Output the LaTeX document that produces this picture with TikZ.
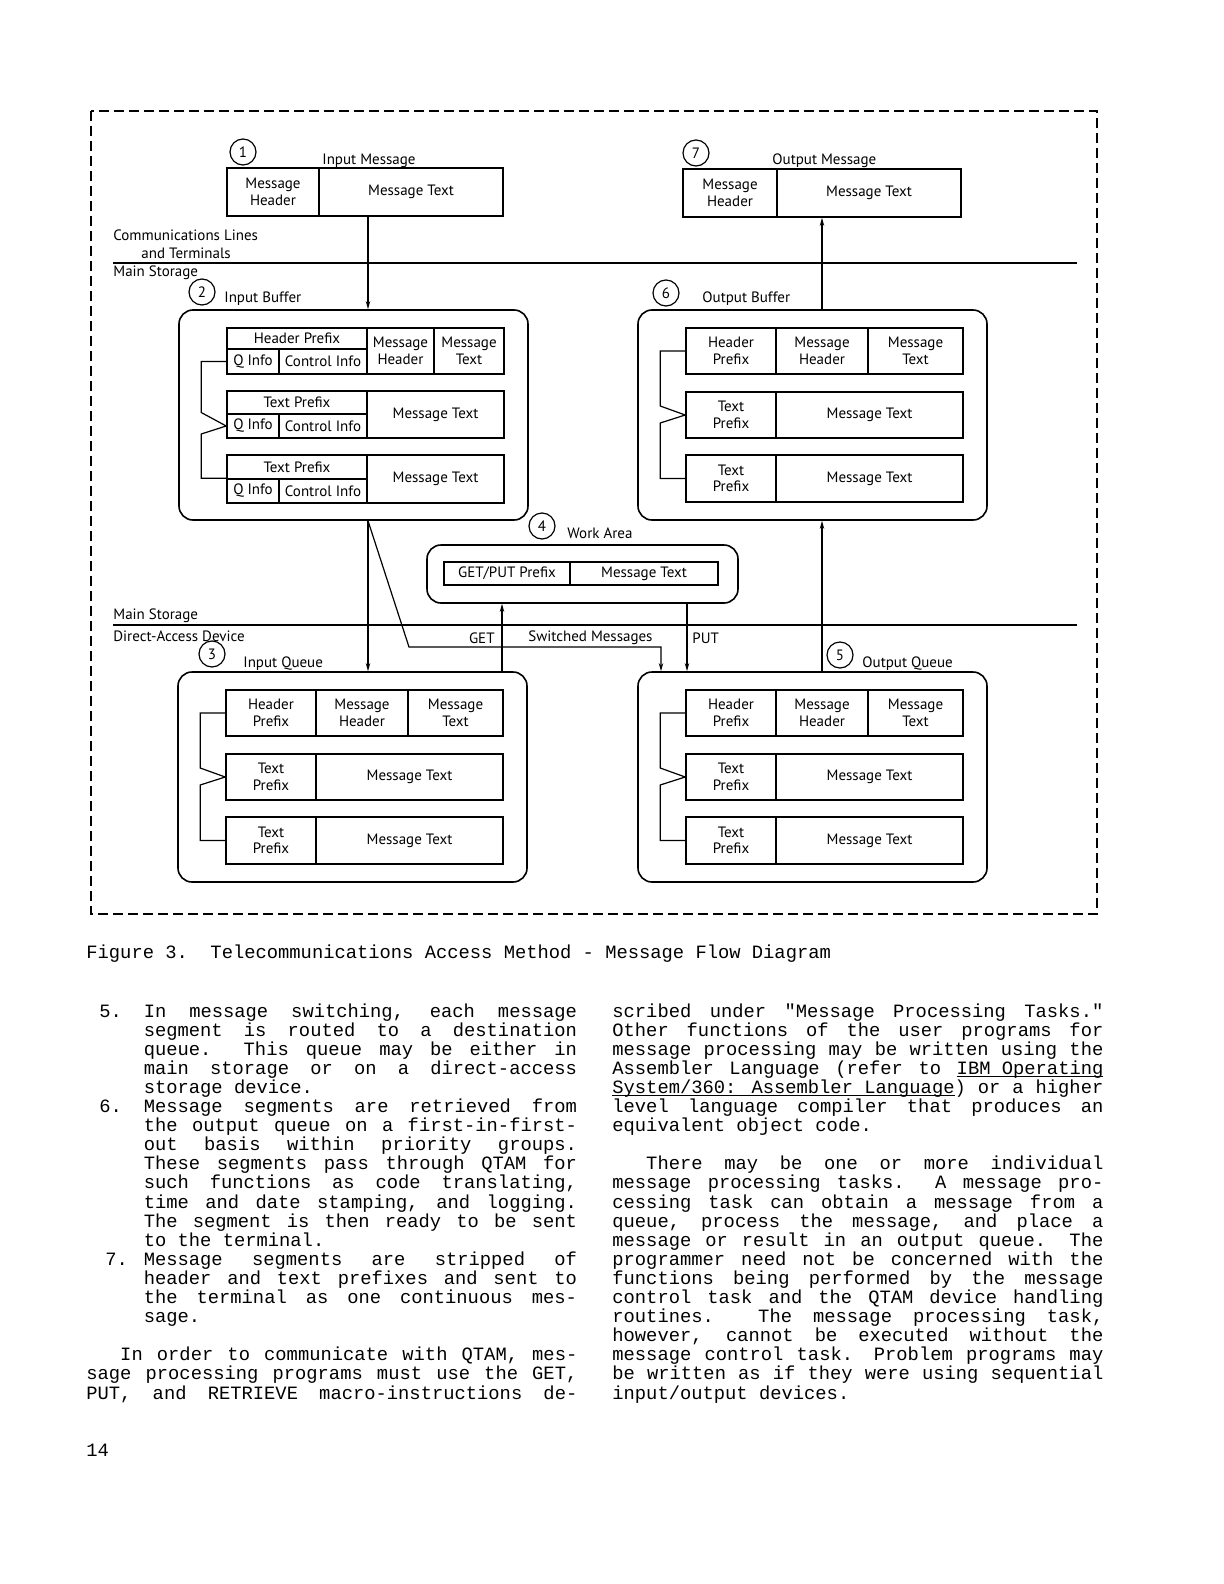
\documentclass[tikz,border=0pt]{standalone}
\usepackage{fontspec}
\usetikzlibrary{arrows.meta,positioning}
\newfontfamily\diagfont{PT Sans}
\newfontfamily\typefont{Liberation Mono}

% one cell of a message segment: name, x1, y1, x2, y2 (px), text
\newcommand{\cellbox}[6]{%
  \node[cell, minimum width={(#4-#2)*0.5pt}, minimum height={(#5-#3)*0.5pt}]
    (#1) at ({(#2+#4)/2},{(#3+#5)/2}) {#6};}
% justified and last lines of typed text
\newcommand{\jl}[1]{\hbox to\hsize{\spaceskip=\fontdimen2\font plus 1fil\relax #1}}
\newcommand{\lastl}[1]{\hbox{#1}}
\newcommand{\para}[2]{\vtop{\hsize=#1\relax\lineskiplimit=-20pt\relax #2}}
\newcommand{\ulin}[1]{\setbox0=\hbox{#1}\rlap{\vrule height-0.9pt depth1.5pt width\wd0}\box0}

% queue / buffer with a header segment and two text segments
\newcommand{\segrows}[1]{%
  \node[store, minimum width=174.5pt, minimum height=105pt] (#1) at (174.5,105) {};
  \cellbox{#1-hp}{48}{18}{138}{64}{Header\\Prefix}
  \cellbox{#1-mh}{138}{18}{230}{64}{Message\\Header}
  \cellbox{#1-mt}{230}{18}{325}{64}{Message\\Text}
  \cellbox{#1-tp1}{48}{82}{138}{128}{Text\\Prefix}
  \cellbox{#1-tx1}{138}{82}{325}{128}{Message Text}
  \cellbox{#1-tp2}{48}{145}{138}{192}{Text\\Prefix}
  \cellbox{#1-tx2}{138}{145}{325}{192}{Message Text}
  \draw[link] (#1-hp.west) -- ++(-25,0) -- ++(0,55) -- (#1-tp1.west)
    -- ++(-25,8) |- (#1-tp2.west);}

\tikzset{
  lbl/.style={font=\diagfont\fontsize{7.5}{8.3}\selectfont, inner sep=0pt, anchor=west},
  cell/.style={draw, line width=0.8pt, inner sep=0pt, align=center,
    font=\diagfont\fontsize{7.5}{8.3}\selectfont},
  store/.style={draw, line width=0.8pt, rounded corners=7pt, inner sep=0pt},
  numcirc/.style={draw, circle, line width=0.6pt, minimum size=13pt, inner sep=0pt,
    font=\diagfont\fontsize{7.5}{8}\selectfont},
  flow/.style={line width=0.6pt, -{Stealth[length=4pt,width=2.2pt]}},
  link/.style={line width=0.6pt},
  body/.style={font=\typefont\fontsize{9.4}{9.55}\selectfont, inner sep=0pt, anchor=base west},
}

\begin{document}
\begin{tikzpicture}[x=0.5pt, y=-0.5pt]
  \fill[white] (0,0) rectangle (1224,1584);
  \useasboundingbox (0,0) rectangle (1224,1584);

  % frame and storage boundaries
  \draw[line width=0.6pt, dash pattern=on 5pt off 2.5pt] (91,111) rectangle (1097,914);
  \draw[line width=0.6pt] (113,263) -- (1077,263);
  \draw[line width=0.6pt] (113,625) -- (1077,625);
  \node[lbl] (comm) at (113,235) {Communications Lines};
  \node[lbl] (term) at (141,253) {and Terminals};
  \node[lbl] (ms1) at (113,273) {Main Storage};
  \node[lbl] (ms2) at (113,616) {Main Storage};
  \node[lbl] (dad) at (113,636) {Direct-Access Device};

  % input and output message
  \node[numcirc] (c1) at (243,152) {1};
  \node[lbl] (l1) at (322,161) {Input Message};
  \cellbox{im-hd}{227}{168}{319}{216}{Message\\Header}
  \cellbox{im-tx}{319}{168}{503}{216}{Message Text}
  \node[numcirc] (c7) at (696,153) {7};
  \node[lbl] (l7) at (772,161) {Output Message};
  \cellbox{om-hd}{683}{169}{777}{217}{Message\\Header}
  \cellbox{om-tx}{777}{169}{961}{217}{Message Text}

  % input buffer
  \node[numcirc] (c2) at (202,292) {2};
  \node[lbl] (l2) at (224,299) {Input Buffer};
  \begin{scope}[shift={(179,310)}]
    \node[store, minimum width=174.5pt, minimum height=105pt] (ib) at (174.5,105) {};
    \cellbox{ib-hp}{48}{18}{188}{39}{Header Prefix}
    \cellbox{ib-qi1}{48}{39}{100}{64}{Q Info}
    \cellbox{ib-ci1}{100}{39}{188}{64}{Control Info}
    \cellbox{ib-mh}{188}{18}{255}{64}{Message\\Header}
    \cellbox{ib-mt}{255}{18}{325}{64}{Message\\Text}
    \cellbox{ib-tp1}{48}{81}{188}{104}{Text Prefix}
    \cellbox{ib-qi2}{48}{104}{100}{128}{Q Info}
    \cellbox{ib-ci2}{100}{104}{188}{128}{Control Info}
    \cellbox{ib-tx1}{188}{81}{325}{128}{Message Text}
    \cellbox{ib-tp2}{48}{145}{188}{169}{Text Prefix}
    \cellbox{ib-qi3}{48}{169}{100}{193}{Q Info}
    \cellbox{ib-ci3}{100}{169}{188}{193}{Control Info}
    \cellbox{ib-tx2}{188}{145}{325}{193}{Message Text}
    \draw[link] (ib-qi1.west) -- ++(-25,0) -- ++(0,51) -- (ib-qi2.west)
      -- ++(-25,8) |- (ib-qi3.north west);
  \end{scope}

  % output buffer
  \node[numcirc] (c6) at (666,293) {6};
  \node[lbl] (l6) at (702,299) {Output Buffer};
  \begin{scope}[shift={(638,310)}]
    \segrows{ob}
  \end{scope}

  % work area
  \node[numcirc] (c4) at (542,526) {4};
  \node[lbl] (l4) at (567,533) {Work Area};
  \node[store, minimum width=155.5pt, minimum height=29pt] (wa) at (582.5,574) {};
  \cellbox{wa-pf}{444}{562}{570}{585}{GET/PUT Prefix}
  \cellbox{wa-tx}{570}{562}{718}{585}{Message Text}

  % input and output queue
  \node[numcirc] (c3) at (212,654) {3};
  \node[lbl] (l3) at (243,664) {Input Queue};
  \begin{scope}[shift={(178,672)}]
    \segrows{iq}
  \end{scope}
  \node[numcirc] (c5) at (840,655) {5};
  \node[lbl] (l5) at (862,664) {Output Queue};
  \begin{scope}[shift={(638,672)}]
    \segrows{oq}
  \end{scope}

  % message flow
  \coordinate (inx) at (368,0);
  \coordinate (outx) at (822,0);
  \coordinate (getx) at (502,0);
  \coordinate (putx) at (687,0);
  \coordinate (swx) at (661,0);
  \coordinate (swbend) at (409,647);
  \draw[flow] (im-tx.south -| inx) -- (ib.north -| inx);
  \draw[flow] (ob.north -| outx) -- (om-tx.south -| outx);
  \draw[flow] (ib.south -| inx) -- (iq.north -| inx);
  \draw[flow] (ib.south -| inx) -- (swbend) -| (oq.north -| swx);
  \draw[flow] (iq.north -| getx) -- (wa.south -| getx);
  \draw[flow] (wa.south -| putx) -- (oq.north -| putx);
  \draw[flow] (oq.north -| outx) -- (ob.south -| outx);
  \node[lbl, anchor=east] (get) at (495,638) {GET};
  \node[lbl] (sw) at (528,638) {Switched Messages};
  \node[lbl] (put) at (692,638) {PUT};

  % caption and page text
  \node[body] (cap) at (86,958) {Figure 3.\ \ Telecommunications Access Method - Message Flow Diagram};

  \node[body] (n5) at (99,1017) {5.};
  \node[body] (p5) at (143.4,1017) {\para{216.6pt}{%
    \jl{In message switching, each message}
    \jl{segment is routed to a destination}
    \jl{queue. This queue may be either in}
    \jl{main storage or on a direct-access}
    \lastl{storage device.}}};
  \node[body] (n6) at (99,1112.5) {6.};
  \node[body] (p6) at (143.4,1112.5) {\para{216.6pt}{%
    \jl{Message segments are retrieved from}
    \jl{the output queue on a first-in-first-}
    \jl{out basis within priority groups.}
    \jl{These segments pass through QTAM for}
    \jl{such functions as code translating,}
    \jl{time and date stamping, and logging.}
    \jl{The segment is then ready to be sent}
    \lastl{to the terminal.}}};
  \node[body] (n7) at (105,1265.3) {7.};
  \node[body] (p7) at (143.4,1265.3) {\para{216.6pt}{%
    \jl{Message segments are stripped of}
    \jl{header and text prefixes and sent to}
    \jl{the terminal as one continuous mes-}
    \lastl{sage.}}};
  \node[body] (qtam) at (86,1360.8) {\para{245.5pt}{%
    \jl{\kern1.8em In order to communicate with QTAM, mes-}
    \jl{sage processing programs must use the GET,}
    \jl{PUT, and RETRIEVE macro-instructions de-}}};

  \node[body] (tasks) at (612,1017) {\para{245.5pt}{%
    \jl{scribed under "Message Processing Tasks."}
    \jl{Other functions of the user programs for}
    \jl{message processing may be written using the}
    \jl{Assembler Language (refer to \ulin{IBM Operating}}
    \jl{\ulin{System/360: Assembler Language}) or a higher}
    \jl{level language compiler that produces an}
    \lastl{equivalent object code.}}};
  \node[body] (mpt) at (612,1169.8) {\para{245.5pt}{%
    \jl{\kern1.8em There may be one or more individual}
    \jl{message processing tasks. A message pro-}
    \jl{cessing task can obtain a message from a}
    \jl{queue, process the message, and place a}
    \jl{message or result in an output queue. The}
    \jl{programmer need not be concerned with the}
    \jl{functions being performed by the message}
    \jl{control task and the QTAM device handling}
    \jl{routines. The message processing task,}
    \jl{however, cannot be executed without the}
    \jl{message control task. Problem programs may}
    \jl{be written as if they were using sequential}
    \lastl{input/output devices.}}};

  \node[body] (page) at (86,1456) {14};
\end{tikzpicture}
\end{document}
